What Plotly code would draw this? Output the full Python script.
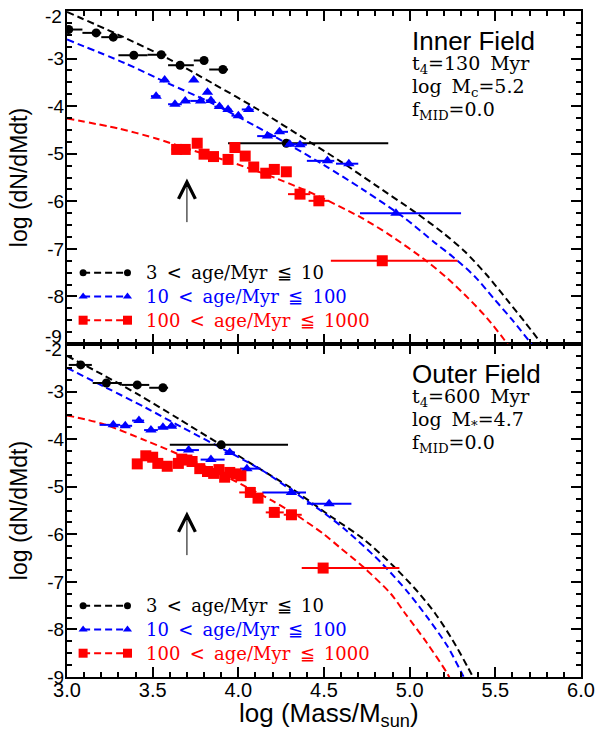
import plotly.graph_objects as go

# ---------------- data ----------------
# Inner field (top panel)
inner_young_x   = [3.01, 3.17, 3.27, 3.39, 3.55, 3.66, 3.80, 3.91, 4.28]
inner_young_y   = [-2.39, -2.46, -2.55, -2.93, -2.92, -3.14, -3.04, -3.23, -4.78]
inner_young_xlo = [2.92, 3.09, 3.20, 3.30, 3.47, 3.59, 3.74, 3.83, 3.94]
inner_young_xhi = [3.09, 3.20, 3.32, 3.47, 3.58, 3.74, 3.82, 3.94, 4.875]

inner_mid_x   = [3.52, 3.57, 3.63, 3.69, 3.74, 3.78, 3.82, 3.84, 3.89, 3.94, 4.00, 4.06, 4.17, 4.24, 4.30, 4.36, 4.52, 4.645, 4.92]
inner_mid_y   = [-3.79, -3.45, -3.96, -3.89, -3.45, -3.89, -3.71, -3.88, -4.01, -4.07, -4.20, -4.07, -4.63, -4.54, -4.80, -4.81, -5.15, -5.21, -6.25]
inner_mid_xlo = [3.49, 3.545, 3.59, 3.67, 3.73, 3.72, 3.80, 3.81, 3.86, 3.91, 3.96, 4.02, 4.11, 4.22, 4.28, 4.34, 4.40, 4.57, 4.71]
inner_mid_xhi = [3.545, 3.59, 3.67, 3.72, 3.75, 3.80, 3.83, 3.86, 3.91, 3.96, 4.02, 4.09, 4.22, 4.29, 4.34, 4.40, 4.56, 4.70, 5.30]

inner_old_x   = [3.64, 3.69, 3.76, 3.80, 3.855, 3.94, 3.98, 4.04, 4.09, 4.16, 4.21, 4.28, 4.36, 4.47, 4.84]
inner_old_y   = [-4.91, -4.91, -4.78, -5.01, -5.06, -5.12, -4.87, -5.05, -5.28, -5.41, -5.33, -5.38, -5.85, -5.99, -7.25]
inner_old_xlo = [3.61, 3.665, 3.74, 3.78, 3.83, 3.91, 3.96, 4.02, 4.07, 4.14, 4.19, 4.26, 4.29, 4.41, 4.54]
inner_old_xhi = [3.665, 3.72, 3.78, 3.83, 3.88, 3.96, 4.00, 4.06, 4.11, 4.18, 4.23, 4.30, 4.42, 4.53, 5.28]

inner_young_curve_x = [3.00, 3.30, 3.59, 3.85, 4.11, 4.42, 4.60, 4.80, 5.04, 5.20, 5.32, 5.45, 5.57, 5.67, 5.77, 5.84]
inner_young_curve_y = [-2.02, -2.50, -3.00, -3.52, -4.06, -4.76, -5.17, -5.66, -6.25, -6.68, -7.05, -7.55, -8.08, -8.53, -9.00, -9.40]
inner_mid_curve_x = [3.00, 3.34, 3.59, 3.83, 4.09, 4.30, 4.50, 4.73, 4.97, 5.15, 5.26, 5.38, 5.49, 5.60, 5.71, 5.78]
inner_mid_curve_y = [-2.60, -3.10, -3.52, -3.91, -4.40, -4.82, -5.24, -5.76, -6.35, -6.88, -7.19, -7.58, -8.04, -8.50, -9.00, -9.40]
inner_old_curve_x = [3.00, 3.30, 3.52, 3.69, 3.96, 4.23, 4.46, 4.71, 4.88, 5.10, 5.22, 5.34, 5.45, 5.55, 5.64]
inner_old_curve_y = [-4.26, -4.47, -4.68, -4.88, -5.18, -5.53, -5.88, -6.33, -6.70, -7.26, -7.62, -8.03, -8.45, -8.90, -9.35]

# Outer field (bottom panel)
outer_young_x   = [3.08, 3.23, 3.41, 3.56, 3.90]
outer_young_y   = [-2.44, -2.82, -2.86, -2.92, -4.12]
outer_young_xlo = [3.01, 3.15, 3.32, 3.48, 3.60]
outer_young_xhi = [3.145, 3.32, 3.48, 3.59, 4.29]

outer_mid_x   = [3.27, 3.34, 3.42, 3.49, 3.56, 3.61, 3.71, 3.84, 3.95, 4.05, 4.31, 4.53]
outer_mid_y   = [-3.70, -3.72, -3.61, -3.81, -3.75, -3.73, -4.23, -4.43, -4.28, -4.62, -5.12, -5.36]
outer_mid_xlo = [3.19, 3.31, 3.38, 3.45, 3.53, 3.59, 3.64, 3.78, 3.92, 4.01, 4.14, 4.40]
outer_mid_xhi = [3.31, 3.38, 3.45, 3.53, 3.59, 3.64, 3.77, 3.92, 3.98, 4.13, 4.395, 4.66]

outer_old_x   = [3.41, 3.46, 3.50, 3.53, 3.585, 3.65, 3.67, 3.70, 3.73, 3.775, 3.82, 3.856, 3.887, 3.92, 3.95, 3.986, 4.015, 4.07, 4.115, 4.21, 4.31, 4.495]
outer_old_y   = [-4.52, -4.35, -4.38, -4.51, -4.57, -4.51, -4.42, -4.44, -4.47, -4.62, -4.68, -4.72, -4.64, -4.80, -4.70, -4.73, -4.77, -5.12, -5.24, -5.54, -5.59, -6.71]
outer_old_xlo = [3.39, 3.44, 3.48, 3.51, 3.565, 3.63, 3.65, 3.68, 3.71, 3.755, 3.80, 3.836, 3.867, 3.90, 3.93, 3.966, 3.995, 4.005, 4.10, 4.16, 4.265, 4.37]
outer_old_xhi = [3.43, 3.48, 3.52, 3.55, 3.605, 3.67, 3.69, 3.72, 3.75, 3.795, 3.84, 3.876, 3.907, 3.94, 3.97, 4.006, 4.035, 4.10, 4.14, 4.265, 4.37, 4.94]

outer_young_curve_x = [3.00, 3.20, 3.42, 3.65, 3.88, 4.10, 4.30, 4.53, 4.73, 4.90, 5.05, 5.15, 5.25, 5.34, 5.42]
outer_young_curve_y = [-2.25, -2.63, -3.07, -3.57, -4.08, -4.57, -5.01, -5.60, -6.10, -6.65, -7.22, -7.67, -8.22, -8.80, -9.35]
outer_mid_curve_x = [3.00, 3.23, 3.46, 3.67, 3.96, 4.15, 4.34, 4.50, 4.63, 4.84, 4.99, 5.11, 5.22, 5.31, 5.36]
outer_mid_curve_y = [-2.50, -2.92, -3.34, -3.75, -4.30, -4.68, -5.15, -5.55, -5.92, -6.62, -7.22, -7.78, -8.35, -8.96, -9.30]
outer_old_curve_x = [3.00, 3.21, 3.46, 3.69, 3.85, 4.05, 4.20, 4.34, 4.50, 4.59, 4.73, 4.89, 4.975, 5.10, 5.22, 5.27]
outer_old_curve_y = [-3.50, -3.68, -4.03, -4.38, -4.65, -5.01, -5.30, -5.60, -6.00, -6.27, -6.69, -7.25, -7.67, -8.28, -8.93, -9.30]

SP = " \u2009"  # slightly widened gap, like the reference's spacing
legend_labels = ["3" + SP + "&lt;" + SP + "age/Myr" + SP + "≦" + SP + "10",
                 "10" + SP + "&lt;" + SP + "age/Myr" + SP + "≦" + SP + "100",
                 "100" + SP + "&lt;" + SP + "age/Myr" + SP + "≦" + SP + "1000"]
inner_text = ["Inner Field", "t<sub>4</sub>=130" + SP + "Myr", "log" + SP + "M<sub>c</sub>=5.2", "f<sub>MID</sub>=0.0"]
outer_text = ["Outer Field", "t<sub>4</sub>=600" + SP + "Myr", "log" + SP + "M<sub>*</sub>=4.7", "f<sub>MID</sub>=0.0"]
x_ticks = [3.0, 3.5, 4.0, 4.5, 5.0, 5.5, 6.0]
y_ticks = [-9, -8, -7, -6, -5, -4, -3, -2]

# ---------------- layout constants ----------------
COLORS = ["black", "#0000ff", "#ff0000"]
SYMBOLS = ["circle", "triangle-up", "square"]
SIZES = [9, 10, 11]
LEG_SIZES = [7, 8, 9]
LEG_X = [3.094, 3.353]
LEG_Y = [-7.5, -8.0, -8.5]
LEG_TEXT_X = 3.45
TEXT_X = 5.0
TEXT_Y = [-2.63, -3.13, -3.60, -4.10]
ARROW_X = 3.7
ARROW_Y = [-6.47, -5.52]
SANS = "Liberation Sans, Arial, Helvetica, sans-serif"
SERIF = "DejaVu Serif, serif"
TICK_FONT = dict(family=SANS, size=19, color="black")

fig = go.Figure()


def add_points(x, y, xlo, xhi, k, xa, ya):
    fig.add_trace(go.Scatter(
        x=x, y=y, mode="markers", xaxis=xa, yaxis=ya,
        marker=dict(symbol=SYMBOLS[k], size=SIZES[k], color=COLORS[k], line=dict(width=0)),
        error_x=dict(type="data", symmetric=False,
                     array=[h - v for h, v in zip(xhi, x)],
                     arrayminus=[v - l for l, v in zip(xlo, x)],
                     color=COLORS[k], thickness=2, width=0),
        showlegend=False, hoverinfo="skip"))


def add_curve(x, y, k, xa, ya):
    fig.add_trace(go.Scatter(
        x=x, y=y, mode="lines", xaxis=xa, yaxis=ya,
        line=dict(color=COLORS[k], width=2, dash="7px,4px", shape="spline", smoothing=0.8),
        showlegend=False, hoverinfo="skip"))


panels = [
    ("x2", "y2", [
        (inner_young_curve_x, inner_young_curve_y),
        (inner_mid_curve_x, inner_mid_curve_y),
        (inner_old_curve_x, inner_old_curve_y)],
     [(inner_young_x, inner_young_y, inner_young_xlo, inner_young_xhi),
      (inner_mid_x, inner_mid_y, inner_mid_xlo, inner_mid_xhi),
      (inner_old_x, inner_old_y, inner_old_xlo, inner_old_xhi)], inner_text),
    ("x", "y", [
        (outer_young_curve_x, outer_young_curve_y),
        (outer_mid_curve_x, outer_mid_curve_y),
        (outer_old_curve_x, outer_old_curve_y)],
     [(outer_young_x, outer_young_y, outer_young_xlo, outer_young_xhi),
      (outer_mid_x, outer_mid_y, outer_mid_xlo, outer_mid_xhi),
      (outer_old_x, outer_old_y, outer_old_xlo, outer_old_xhi)], outer_text),
]

annotations = []
for xa, ya, curves, points, texts in panels:
    for k, (cx, cy) in enumerate(curves):
        add_curve(cx, cy, k, xa, ya)
    for k, (px, py, lo, hi) in enumerate(points):
        add_points(px, py, lo, hi, k, xa, ya)
    # legend samples
    for k in range(3):
        fig.add_trace(go.Scatter(
            x=LEG_X, y=[LEG_Y[k]] * 2, mode="lines+markers", xaxis=xa, yaxis=ya,
            line=dict(color=COLORS[k], width=2, dash="7px,4px"),
            marker=dict(symbol=SYMBOLS[k], size=LEG_SIZES[k], color=COLORS[k]),
            showlegend=False, hoverinfo="skip"))
        annotations.append(dict(x=LEG_TEXT_X, y=LEG_Y[k], xref=xa, yref=ya, text=legend_labels[k],
                                showarrow=False, xanchor="left", yanchor="middle",
                                font=dict(family=SERIF, size=18, color=COLORS[k])))
    # panel texts
    for i, t in enumerate(texts):
        annotations.append(dict(x=TEXT_X, y=TEXT_Y[i], xref=xa, yref=ya, text=t, showarrow=False,
                                xanchor="left", yanchor="middle",
                                font=dict(family=SANS if i == 0 else SERIF,
                                          size=26 if i == 0 else 19, color="black")))
    # arrow
    annotations.append(dict(x=ARROW_X, y=ARROW_Y[1], ax=ARROW_X, ay=ARROW_Y[0],
                            xref=xa, yref=ya, axref=xa, ayref=ya, text="", showarrow=True,
                            arrowhead=5, arrowsize=3.3, arrowwidth=1, arrowcolor="black", standoff=0))

# tick labels at the panel edges, offset like the reference
for yref, val, shift in [("y2", -2, -5), ("y2", -9, 8), ("y", -2, -5)]:
    annotations.append(dict(x=0, y=val, xref="paper", yref=yref, text="%d" % val, showarrow=False,
                            xanchor="right", yanchor="middle", xshift=-3, yshift=shift,
                            font=TICK_FONT))

# axis titles
for yc in (0.75, 0.25):
    annotations.append(dict(x=-0.094, y=yc, xref="paper", yref="paper", text="log (dN/dMdt)",
                            showarrow=False, textangle=-90, xanchor="center", yanchor="middle",
                            font=dict(family=SANS, size=23, color="black")))
annotations.append(dict(x=0.51, y=-0.057, xref="paper", yref="paper", text="log (Mass/M<sub>sun</sub>)",
                        showarrow=False, xanchor="center", yanchor="middle",
                        font=dict(family=SANS, size=26, color="black")))

axis_common = dict(showline=True, linewidth=2, linecolor="black", mirror="allticks",
                   ticks="inside", ticklen=10, tickwidth=2, tickcolor="black",
                   showgrid=False, zeroline=False)

xa_common = dict(axis_common, range=[3, 6], tickmode="array", tickvals=x_ticks,
                 ticktext=["%.1f" % v for v in x_ticks], ticklabelstandoff=-6,
                 minor=dict(tickmode="linear", tick0=3, dtick=0.1, ticks="inside",
                            ticklen=5, tickwidth=2, tickcolor="black", showgrid=False),
                 tickfont=dict(family=SANS, size=20, color="black"))

ya_common = dict(axis_common, range=[-9, -2], ticklabelstandoff=-3,
                 minor=dict(tickmode="linear", tick0=-9, dtick=0.25, ticks="inside",
                            ticklen=5, tickwidth=2, tickcolor="black", showgrid=False),
                 tickfont=TICK_FONT, tickmode="array")

inner_vals = [v for v in y_ticks if v not in (-9, -2)]
bot_vals = [v for v in y_ticks if v != -2]

fig.update_layout(
    width=604, height=730,
    margin=dict(l=67, r=16, t=9, b=53),
    paper_bgcolor="white", plot_bgcolor="white",
    showlegend=False,
    xaxis=dict(xa_common, domain=[0, 1], anchor="y"),
    xaxis2=dict(xa_common, domain=[0, 1], anchor="y2", matches="x", showticklabels=False),
    yaxis=dict(ya_common, domain=[0, 0.5], anchor="x", tickvals=bot_vals,
               ticktext=["%d" % v for v in bot_vals]),
    yaxis2=dict(ya_common, domain=[0.5, 1], anchor="x2", tickvals=inner_vals,
                ticktext=["%d" % v for v in inner_vals]),
    annotations=annotations,
)

# remove the page's default body margin so the figure sits at the window's top-left corner
fig.write_html("out.html", config={"displayModeBar": False},
               post_script="document.body.style.margin='0';document.body.style.overflow='hidden';")
